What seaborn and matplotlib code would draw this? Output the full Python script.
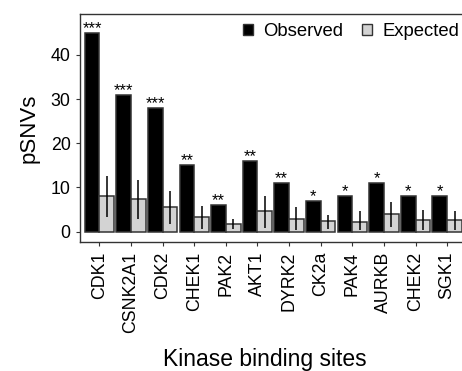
import matplotlib
matplotlib.use("Agg")
import matplotlib.pyplot as plt
import seaborn as sns
import pandas as pd
import numpy as np
from matplotlib.patches import Patch

kinases = ["CDK1", "CSNK2A1", "CDK2", "CHEK1", "PAK2", "AKT1",
           "DYRK2", "CK2a", "PAK4", "AURKB", "CHEK2", "SGK1"]
observed = [45, 31, 28, 15, 6, 16, 11, 7, 8, 11, 8, 8]
expected = [8.0, 7.4, 5.6, 3.4, 1.8, 4.7, 2.9, 2.4, 2.3, 3.9, 2.7, 2.6]
expected_lo = [3.3, 2.9, 1.7, 0.7, 0.5, 0.8, 0.3, 0.5, 0.4, 1.1, 0.4, 0.3]
expected_hi = [12.7, 11.6, 9.2, 5.9, 2.9, 8.1, 5.7, 3.8, 4.6, 6.7, 4.8, 4.7]
stars = ["***", "***", "***", "**", "**", "**", "**", "*", "*", "*", "*", "*"]

df = pd.DataFrame({
    "kinase": kinases * 2,
    "count": observed + expected,
    "type": ["Observed"] * len(kinases) + ["Expected"] * len(kinases),
})

sns.set_theme(style="white")
plt.rcParams["font.family"] = ["Liberation Sans", "DejaVu Sans"]
for key in ["text.color", "axes.labelcolor", "xtick.labelcolor", "ytick.labelcolor"]:
    plt.rcParams[key] = "black"

fig = plt.figure(figsize=(4.62, 3.71), dpi=100)
ax = fig.add_axes([0.174, 0.3477, 0.835, 0.6146])

colors = {"Observed": "#000000", "Expected": "#d3d3d3"}
sns.barplot(data=df, x="kinase", y="count", hue="type", order=kinases,
            hue_order=["Observed", "Expected"], palette=colors,
            width=0.93, gap=0, edgecolor="#333333", linewidth=1.1,
            errorbar=None, legend=False, ax=ax)

# Error ranges on the expected bars
x = np.arange(len(kinases))
off = 0.93 / 4
ax.vlines(x + off, expected_lo, expected_hi, color="black", linewidth=1.1, zorder=5)

# Significance stars above the observed bars
for xi, v, s in zip(x, observed, stars):
    ax.annotate(s, xy=(xi - off, v), xytext=(0, 0), textcoords="offset points",
                ha="center", va="baseline", fontsize=12, color="black")

ax.set_xlim(-0.6, len(kinases) - 0.4)
ax.set_ylim(-2.33, 49.25)
ax.set_yticks([0, 10, 20, 30, 40])
ax.set_xticks(x)
ax.set_xticklabels(kinases, rotation=90)
ax.tick_params(axis="y", labelsize=12.8, length=3, width=0.8, color="#333333", left=True, pad=4)
ax.tick_params(axis="x", labelsize=12.8, length=3, width=0.8, color="#333333", bottom=True, pad=4)
for sp in ax.spines.values():
    sp.set_visible(True)
    sp.set_color("#333333")
    sp.set_linewidth(1.0)

ax.set_ylabel("pSNVs", fontsize=16, labelpad=8)
ax.set_xlabel("Kinase binding sites", fontsize=16.5)
ax.xaxis.set_label_coords(0.5, 0, transform=fig.transFigure)
ax.xaxis.label.set_verticalalignment("baseline")
ax.xaxis.label.set_position((265 / 462, 5 / 371))

handles = [Patch(facecolor="#000000", edgecolor="#333333", label="Observed"),
           Patch(facecolor="#d3d3d3", edgecolor="#333333", label="Expected")]
ax.legend(handles=handles, ncol=2, loc="center left",
          bbox_to_anchor=(243 / 462, 1 - 31.7 / 371), bbox_transform=fig.transFigure,
          frameon=False, fontsize=13.3, handlelength=0.55, handleheight=0.55,
          handletextpad=0.55, columnspacing=1.0, borderpad=0, borderaxespad=0)

fig.savefig("out.png", dpi=100)
